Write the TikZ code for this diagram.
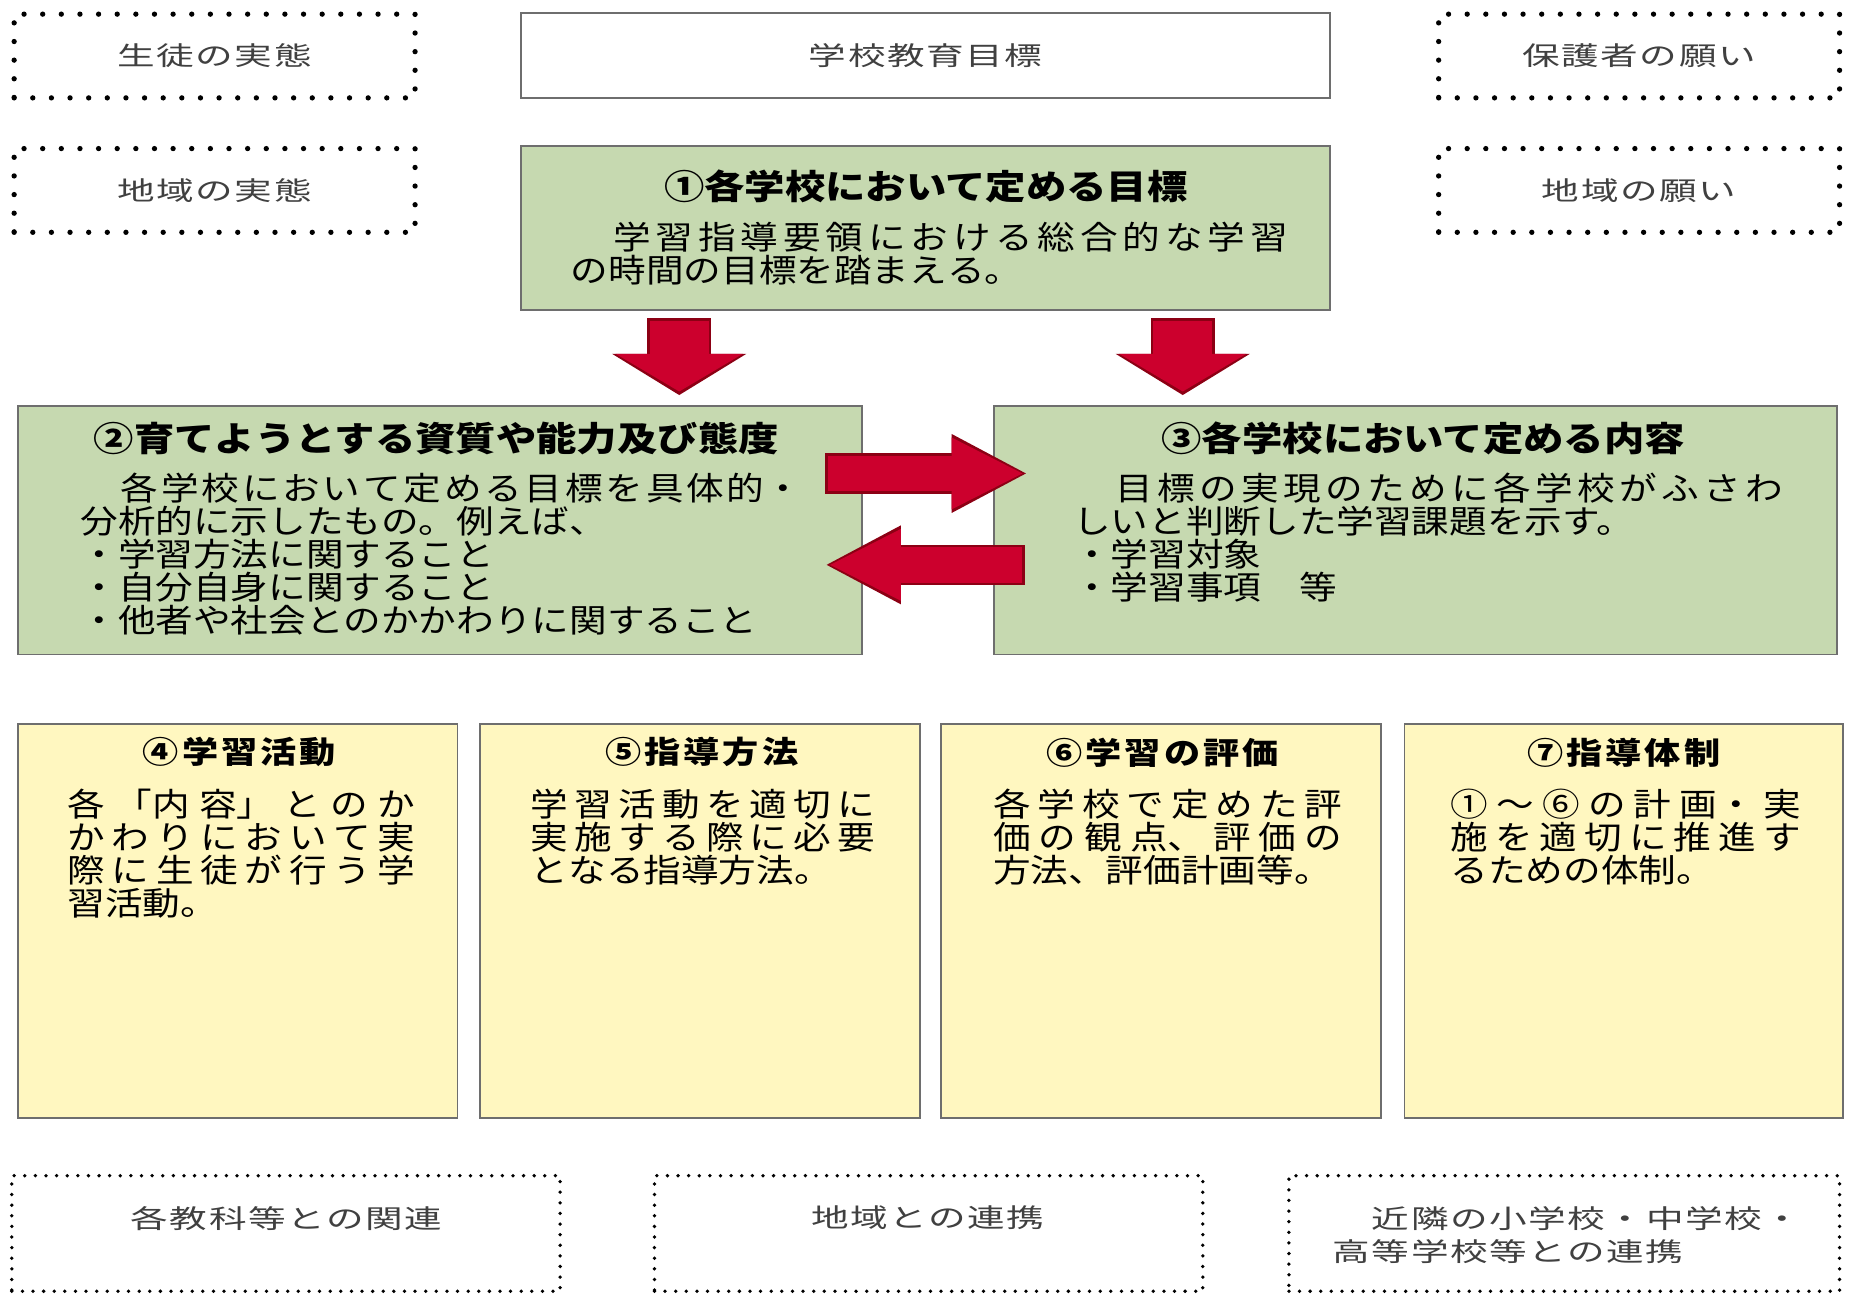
\documentclass[tikz,border=0pt]{standalone}
\usepackage{fontspec}
\usepackage{xcolor}
\usepackage{tikz}
\usetikzlibrary{arrows.meta}

\newfontfamily\gothic[FakeStretch=1.18]{Noto Sans CJK JP}
\newfontfamily\mincho[FakeStretch=1.16]{Noto Sans CJK JP}
\newfontfamily\labelfont[FakeStretch=1.45,LetterSpace=6]{Noto Sans CJK JP}

\XeTeXlinebreaklocale "ja"
\XeTeXlinebreakskip=0pt plus 12pt
\tolerance=9999

\definecolor{kusa}{RGB}{198,217,176}
\definecolor{kiiro}{RGB}{255,247,192}
\definecolor{aka}{RGB}{204,0,45}
\definecolor{akakage}{RGB}{140,0,20}
\definecolor{waku}{RGB}{110,110,110}
\definecolor{sumi}{RGB}{64,64,64}

\tikzset{
  dotbox/.style={draw=black, line width=4.5pt, dash pattern=on 0pt off 15.8pt, line cap=round,
    minimum width=340, minimum height=71, text=sumi, font=\labelfont\fontsize{22}{26}\selectfont},
  dotboxs/.style={draw=black, line width=3.2pt, dash pattern=on 0pt off 9pt, line cap=round,
    minimum height=98},
  plainbox/.style={draw=waku, line width=1.5pt, minimum width=686, minimum height=72,
    text=sumi, font=\labelfont\fontsize{22}{26}\selectfont},
  labeltext/.style={text=sumi, inner sep=0pt, font=\labelfont\fontsize{22}{28}\selectfont},
  greenbox/.style={draw=waku, line width=1.5pt, fill=kusa},
  yellowbox/.style={draw=waku, line width=1.5pt, fill=kiiro, minimum width=373, minimum height=334},
  midashi/.style={inner sep=0pt, font=\gothic\bfseries\fontsize{29}{34}\selectfont},
  komidashi/.style={inner sep=0pt, font=\gothic\bfseries\fontsize{26}{30}\selectfont\addfontfeature{LetterSpace=10}},
  honbun/.style={anchor=base west, inner sep=0pt,
    font=\mincho\fontsize{27.5}{28}\selectfont,
    execute at begin node={\leftskip=0pt\relax\rightskip=0pt\relax}},
  downarrow/.style={draw=aka, line width=50pt, -{Triangle[line width=0pt, width=108pt, length=32pt]},
    preaction={draw=akakage, line width=54pt, shorten <=-2pt, shorten >=-3pt,
      -{Triangle[line width=0pt, width=114pt, length=35pt]}}},
  sidearrow/.style={draw=aka, line width=30pt, -{Triangle[line width=0pt, width=61pt, length=60pt]},
    preaction={draw=akakage, line width=34pt, shorten <=-2pt, shorten >=-3pt,
      -{Triangle[line width=0pt, width=67pt, length=63pt]}}}
}

\begin{document}
\begin{tikzpicture}[x=1pt,y=-1pt]
% 総合的な学習の時間の全体計画（構成要素の図）
\useasboundingbox (0,0) rectangle (1568,1098);

\coordinate (d1s) at (576,272);
\coordinate (d1e) at (576,332);
\coordinate (d2s) at (1003,272);
\coordinate (d2e) at (1003,332);
\coordinate (r1s) at (702,401.5);
\coordinate (r1e) at (867,401.5);
\coordinate (l1s) at (867,479);
\coordinate (l1e) at (704,479);

\node[dotbox] (seito) at (182,47.5) {生徒の実態};
\node[plainbox] (kyouiku) at (785,47) {学校教育目標};
\node[dotbox] (hogosha) at (1390,47.5) {保護者の願い};
\node[dotbox] (chiikij) at (182,161.5) {地域の実態};
\node[dotbox] (chiikin) at (1390,161.5) {地域の願い};

\node[greenbox, minimum width=686, minimum height=139] (mokuhyo) at (785,193.5) {};
\node[midashi] (mokuhyot) at (785,158) {①各学校において定める目標};
\node[honbun, text width=608] (mokuhyob) at (484,211.5) {　学習指導要領における総合的な学習\linebreak の時間の目標を踏まえる。};

\draw[downarrow] (d1s) -- (d1e);
\draw[downarrow] (d2s) -- (d2e);

\node[greenbox, minimum width=716, minimum height=211] (shishitsu) at (373,449.5) {};
\node[midashi] (shishitsut) at (370,372) {②育てようとする資質や能力及び態度};
\node[honbun, text width=612] (shishitsub) at (68,424.5) {　各学校において定める目標を具体的・\linebreak 分析的に示したもの。例えば、\\・学習方法に関すること\\・自分自身に関すること\\・他者や社会とのかかわりに関すること};

\node[greenbox, minimum width=715, minimum height=211] (naiyou) at (1200.5,449.5) {};
\node[midashi] (naiyout) at (1207,372) {③各学校において定める内容};
\node[honbun, text width=602] (naiyoub) at (910,424.5) {　目標の実現のために各学校がふさわ\linebreak しいと判断した学習課題を示す。\\・学習対象\\・学習事項　等};

\draw[sidearrow] (r1s) -- (r1e);
\draw[sidearrow] (l1s) -- (l1e);

\node[yellowbox] (katsudo) at (201.5,781) {};
\node[komidashi] (katsudot) at (203,638) {④学習活動};
\node[honbun, text width=295] (katsudob) at (57,692.5) {各「内容」とのか\linebreak かわりにおいて実\linebreak 際に生徒が行う学\linebreak 習活動。};

\node[yellowbox] (houhou) at (593.5,781) {};
\node[komidashi] (houhout) at (595,638) {⑤指導方法};
\node[honbun, text width=292] (houhoub) at (450,692.5) {学習活動を適切に\linebreak 実施する際に必要\linebreak となる指導方法。};

\node[yellowbox] (hyouka) at (984.5,781) {};
\node[komidashi] (hyoukat) at (986,638) {⑥学習の評価};
\node[honbun, text width=296] (hyoukab) at (842,692.5) {各学校で定めた評\linebreak 価の観点、評価の\linebreak 方法、評価計画等。};

\node[yellowbox, minimum width=372] (taisei) at (1377,781) {};
\node[komidashi] (taiseit) at (1377,638) {⑦指導体制};
\node[honbun, text width=297] (taiseib) at (1230,692.5) {①～⑥の計画・実\linebreak 施を適切に推進す\linebreak るための体制。};

\node[dotboxs, minimum width=465] (kyoka) at (242.5,1046) {};
\node[labeltext] (kyokat) at (243,1033) {各教科等との関連};
\node[dotboxs, minimum width=465] (chiiki) at (787.5,1046) {};
\node[labeltext] (chiikit) at (787,1033) {地域との連携};
\node[dotboxs, minimum width=467] (kinrin) at (1326.5,1046) {};
\node[labeltext, anchor=west, align=left] (kinrint) at (1130,1047) {　近隣の小学校・中学校・\\高等学校等との連携};

\end{tikzpicture}
\end{document}
